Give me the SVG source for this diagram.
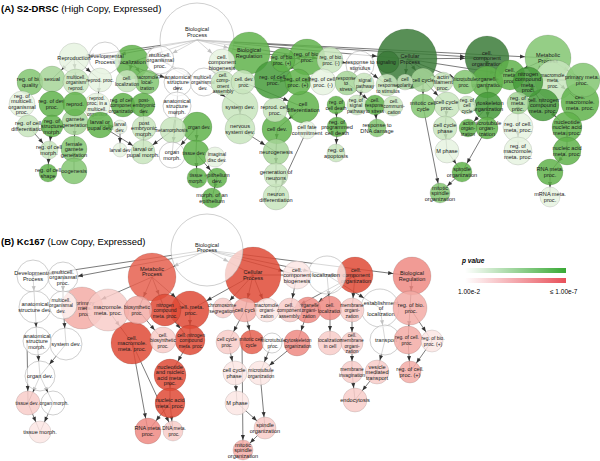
<svg xmlns="http://www.w3.org/2000/svg" width="600" height="461" viewBox="0 0 600 461">
<defs>
<style>
text{font-family:"Liberation Sans Narrow","Liberation Sans",Arial,sans-serif;font-size:5.6px;fill:#1a1a1a;text-anchor:middle}
text.s{font-size:4.9px}
circle{stroke:#000;stroke-opacity:.18;stroke-width:.6;fill-opacity:.85}
.w{fill:#fff;fill-opacity:.7;stroke:#9a9a9a;stroke-opacity:.8}
.g1{fill:#e6f3e1}.g2{fill:#c8e5bd}.g3{fill:#a6d598}.g4{fill:#83c571}.g5{fill:#60b34b}.g6{fill:#479b3b}.g7{fill:#3b7b38}
.r1{fill:#fce6e4}.r2{fill:#f8cdc9}.r3{fill:#f3aca6}.r4{fill:#ee8a82}.r5{fill:#e6604f}.r6{fill:#df4a36}
#connectors line{stroke:#333;stroke-width:.65}
.ttl{font-family:"Liberation Sans",Arial,sans-serif;font-size:9.5px;text-anchor:start;fill:#000}
.lg{font-family:"Liberation Sans",Arial,sans-serif;font-size:6.5px;text-anchor:start;fill:#000}
</style>
<marker id="m7" refX="12" refY="2" markerWidth="5" markerHeight="4" markerUnits="userSpaceOnUse" orient="auto" overflow="visible"><path d="M0,0L5,2L0,4z" fill="#333"/></marker>
<marker id="m8" refX="13" refY="2" markerWidth="5" markerHeight="4" markerUnits="userSpaceOnUse" orient="auto" overflow="visible"><path d="M0,0L5,2L0,4z" fill="#333"/></marker>
<marker id="m9" refX="14" refY="2" markerWidth="5" markerHeight="4" markerUnits="userSpaceOnUse" orient="auto" overflow="visible"><path d="M0,0L5,2L0,4z" fill="#333"/></marker>
<marker id="m10" refX="15" refY="2" markerWidth="5" markerHeight="4" markerUnits="userSpaceOnUse" orient="auto" overflow="visible"><path d="M0,0L5,2L0,4z" fill="#333"/></marker>
<marker id="m11" refX="16" refY="2" markerWidth="5" markerHeight="4" markerUnits="userSpaceOnUse" orient="auto" overflow="visible"><path d="M0,0L5,2L0,4z" fill="#333"/></marker>
<marker id="m12" refX="17" refY="2" markerWidth="5" markerHeight="4" markerUnits="userSpaceOnUse" orient="auto" overflow="visible"><path d="M0,0L5,2L0,4z" fill="#333"/></marker>
<marker id="m13" refX="18" refY="2" markerWidth="5" markerHeight="4" markerUnits="userSpaceOnUse" orient="auto" overflow="visible"><path d="M0,0L5,2L0,4z" fill="#333"/></marker>
<marker id="m14" refX="19" refY="2" markerWidth="5" markerHeight="4" markerUnits="userSpaceOnUse" orient="auto" overflow="visible"><path d="M0,0L5,2L0,4z" fill="#333"/></marker>
<marker id="m15" refX="20" refY="2" markerWidth="5" markerHeight="4" markerUnits="userSpaceOnUse" orient="auto" overflow="visible"><path d="M0,0L5,2L0,4z" fill="#333"/></marker>
<marker id="m16" refX="21" refY="2" markerWidth="5" markerHeight="4" markerUnits="userSpaceOnUse" orient="auto" overflow="visible"><path d="M0,0L5,2L0,4z" fill="#333"/></marker>
<marker id="m17" refX="22" refY="2" markerWidth="5" markerHeight="4" markerUnits="userSpaceOnUse" orient="auto" overflow="visible"><path d="M0,0L5,2L0,4z" fill="#333"/></marker>
<marker id="m18" refX="23" refY="2" markerWidth="5" markerHeight="4" markerUnits="userSpaceOnUse" orient="auto" overflow="visible"><path d="M0,0L5,2L0,4z" fill="#333"/></marker>
<marker id="m19" refX="24" refY="2" markerWidth="5" markerHeight="4" markerUnits="userSpaceOnUse" orient="auto" overflow="visible"><path d="M0,0L5,2L0,4z" fill="#333"/></marker>
<marker id="m20" refX="25" refY="2" markerWidth="5" markerHeight="4" markerUnits="userSpaceOnUse" orient="auto" overflow="visible"><path d="M0,0L5,2L0,4z" fill="#333"/></marker>
<marker id="m21" refX="26" refY="2" markerWidth="5" markerHeight="4" markerUnits="userSpaceOnUse" orient="auto" overflow="visible"><path d="M0,0L5,2L0,4z" fill="#333"/></marker>
<marker id="m22" refX="27" refY="2" markerWidth="5" markerHeight="4" markerUnits="userSpaceOnUse" orient="auto" overflow="visible"><path d="M0,0L5,2L0,4z" fill="#333"/></marker>
<marker id="m23" refX="28" refY="2" markerWidth="5" markerHeight="4" markerUnits="userSpaceOnUse" orient="auto" overflow="visible"><path d="M0,0L5,2L0,4z" fill="#333"/></marker>
<marker id="m24" refX="29" refY="2" markerWidth="5" markerHeight="4" markerUnits="userSpaceOnUse" orient="auto" overflow="visible"><path d="M0,0L5,2L0,4z" fill="#333"/></marker>
<marker id="m28" refX="33" refY="2" markerWidth="5" markerHeight="4" markerUnits="userSpaceOnUse" orient="auto" overflow="visible"><path d="M0,0L5,2L0,4z" fill="#333"/></marker>
<marker id="m30" refX="35" refY="2" markerWidth="5" markerHeight="4" markerUnits="userSpaceOnUse" orient="auto" overflow="visible"><path d="M0,0L5,2L0,4z" fill="#333"/></marker>
<linearGradient id="gg" x1="0" x2="1" y1="0" y2="0"><stop offset="0" stop-color="#fff"/><stop offset="1" stop-color="#39a935"/></linearGradient>
<linearGradient id="rg" x1="0" x2="1" y1="0" y2="0"><stop offset="0" stop-color="#fff"/><stop offset="1" stop-color="#e8505a"/></linearGradient>
</defs>
<rect width="600" height="461" fill="#fff"/>
<g id="connectors">
<line x1="197" y1="40" x2="74" y2="58" marker-end="url(#m15)"/>
<line x1="197" y1="40" x2="105" y2="57" marker-end="url(#m16)"/>
<line x1="197" y1="40" x2="132" y2="62" marker-end="url(#m17)"/>
<line x1="197" y1="40" x2="160" y2="60" marker-end="url(#m14)"/>
<line x1="197" y1="40" x2="249" y2="53" marker-end="url(#m21)"/>
<line x1="197" y1="40" x2="222" y2="62" marker-end="url(#m13)"/>
<line x1="197" y1="40" x2="407" y2="59" marker-end="url(#m30)"/>
<line x1="197" y1="40" x2="548" y2="58" marker-end="url(#m23)"/>
<line x1="197" y1="40" x2="487" y2="58" marker-end="url(#m22)"/>
<line x1="197" y1="40" x2="360" y2="65" marker-end="url(#m14)"/>
<line x1="407" y1="59" x2="487" y2="58" marker-end="url(#m22)"/>
<line x1="407" y1="59" x2="510" y2="75" marker-end="url(#m15)"/>
<line x1="548" y1="58" x2="510" y2="75" marker-end="url(#m15)"/>
<line x1="548" y1="58" x2="583" y2="80" marker-end="url(#m17)"/>
<line x1="548" y1="58" x2="528" y2="82" marker-end="url(#m15)"/>
<line x1="583" y1="80" x2="555" y2="80" marker-end="url(#m20)"/>
<line x1="407" y1="59" x2="423" y2="80" marker-end="url(#m12)"/>
<line x1="407" y1="59" x2="405" y2="82" marker-end="url(#m8)"/>
<line x1="407" y1="59" x2="443" y2="82" marker-end="url(#m10)"/>
<line x1="407" y1="59" x2="465" y2="82" marker-end="url(#m12)"/>
<line x1="487" y1="58" x2="487" y2="82" marker-end="url(#m16)"/>
<line x1="487" y1="82" x2="488" y2="106" marker-end="url(#m14)"/>
<line x1="423" y1="80" x2="423" y2="106" marker-end="url(#m12)"/>
<line x1="423" y1="80" x2="447" y2="105" marker-end="url(#m13)"/>
<line x1="447" y1="105" x2="445" y2="128" marker-end="url(#m12)"/>
<line x1="445" y1="128" x2="447" y2="151" marker-end="url(#m12)"/>
<line x1="487" y1="128" x2="462" y2="172" marker-end="url(#m10)"/>
<line x1="462" y1="172" x2="440" y2="193" marker-end="url(#m10)"/>
<line x1="423" y1="106" x2="440" y2="193" marker-end="url(#m10)"/>
<line x1="447" y1="151" x2="462" y2="172" marker-end="url(#m10)"/>
<line x1="488" y1="106" x2="487" y2="128" marker-end="url(#m11)"/>
<line x1="488" y1="106" x2="468" y2="128" marker-end="url(#m9)"/>
<line x1="555" y1="80" x2="580" y2="102" marker-end="url(#m19)"/>
<line x1="528" y1="82" x2="543" y2="105" marker-end="url(#m16)"/>
<line x1="543" y1="105" x2="567" y2="127" marker-end="url(#m15)"/>
<line x1="567" y1="127" x2="567" y2="151" marker-end="url(#m14)"/>
<line x1="567" y1="151" x2="550" y2="172" marker-end="url(#m13)"/>
<line x1="550" y1="172" x2="550" y2="197" marker-end="url(#m10)"/>
<line x1="518" y1="103" x2="518" y2="127" marker-end="url(#m15)"/>
<line x1="518" y1="127" x2="518" y2="151" marker-end="url(#m14)"/>
<line x1="249" y1="53" x2="307" y2="57" marker-end="url(#m18)"/>
<line x1="307" y1="57" x2="283" y2="60" marker-end="url(#m12)"/>
<line x1="307" y1="57" x2="330" y2="60" marker-end="url(#m13)"/>
<line x1="307" y1="57" x2="273" y2="80" marker-end="url(#m19)"/>
<line x1="273" y1="80" x2="298" y2="82" marker-end="url(#m13)"/>
<line x1="273" y1="80" x2="323" y2="82" marker-end="url(#m13)"/>
<line x1="360" y1="65" x2="347" y2="83" marker-end="url(#m12)"/>
<line x1="360" y1="65" x2="387" y2="85" marker-end="url(#m11)"/>
<line x1="347" y1="83" x2="375" y2="105" marker-end="url(#m10)"/>
<line x1="375" y1="105" x2="377" y2="128" marker-end="url(#m9)"/>
<line x1="336" y1="105" x2="337" y2="127" marker-end="url(#m10)"/>
<line x1="337" y1="127" x2="336" y2="153" marker-end="url(#m9)"/>
<line x1="364" y1="83" x2="357" y2="105" marker-end="url(#m10)"/>
<line x1="303" y1="107" x2="277" y2="129" marker-end="url(#m15)"/>
<line x1="240" y1="129" x2="276" y2="152" marker-end="url(#m13)"/>
<line x1="277" y1="129" x2="276" y2="152" marker-end="url(#m13)"/>
<line x1="276" y1="152" x2="276" y2="175" marker-end="url(#m12)"/>
<line x1="276" y1="175" x2="276" y2="197" marker-end="url(#m13)"/>
<line x1="307" y1="130" x2="276" y2="197" marker-end="url(#m13)"/>
<line x1="240" y1="107" x2="240" y2="129" marker-end="url(#m15)"/>
<line x1="204" y1="82" x2="240" y2="107" marker-end="url(#m18)"/>
<line x1="243" y1="82" x2="303" y2="107" marker-end="url(#m16)"/>
<line x1="178" y1="82" x2="177" y2="106" marker-end="url(#m14)"/>
<line x1="177" y1="106" x2="172" y2="155" marker-end="url(#m13)"/>
<line x1="177" y1="106" x2="173" y2="130" marker-end="url(#m13)"/>
<line x1="197" y1="127" x2="172" y2="155" marker-end="url(#m13)"/>
<line x1="197" y1="127" x2="196" y2="153" marker-end="url(#m13)"/>
<line x1="196" y1="153" x2="217" y2="178" marker-end="url(#m10)"/>
<line x1="217" y1="178" x2="212" y2="198" marker-end="url(#m10)"/>
<line x1="196" y1="153" x2="197" y2="178" marker-end="url(#m10)"/>
<line x1="100" y1="125" x2="120" y2="127" marker-end="url(#m7)"/>
<line x1="100" y1="125" x2="143" y2="152" marker-end="url(#m12)"/>
<line x1="143" y1="105" x2="144" y2="128" marker-end="url(#m12)"/>
<line x1="144" y1="128" x2="143" y2="152" marker-end="url(#m12)"/>
<line x1="173" y1="130" x2="143" y2="152" marker-end="url(#m12)"/>
<line x1="120" y1="127" x2="120" y2="150" marker-end="url(#m7)"/>
<line x1="75" y1="122" x2="74" y2="149" marker-end="url(#m13)"/>
<line x1="74" y1="149" x2="74" y2="171" marker-end="url(#m13)"/>
<line x1="52" y1="126" x2="49" y2="150" marker-end="url(#m9)"/>
<line x1="49" y1="150" x2="48" y2="173" marker-end="url(#m9)"/>
<line x1="28" y1="126" x2="49" y2="150" marker-end="url(#m9)"/>
<line x1="74" y1="58" x2="52" y2="79" marker-end="url(#m13)"/>
<line x1="74" y1="58" x2="76" y2="82" marker-end="url(#m13)"/>
<line x1="74" y1="58" x2="100" y2="80" marker-end="url(#m12)"/>
<line x1="100" y1="80" x2="97" y2="106" marker-end="url(#m13)"/>
<line x1="105" y1="57" x2="178" y2="82" marker-end="url(#m14)"/>
<line x1="132" y1="62" x2="127" y2="81" marker-end="url(#m11)"/>
<line x1="132" y1="62" x2="147" y2="82" marker-end="url(#m12)"/>
<line x1="160" y1="60" x2="204" y2="82" marker-end="url(#m14)"/>

<line x1="207" y1="250" x2="33" y2="276" marker-end="url(#m16)"/>
<line x1="207" y1="252" x2="63" y2="279" marker-end="url(#m15)"/>
<line x1="207" y1="250" x2="152" y2="277" marker-end="url(#m24)"/>
<line x1="207" y1="250" x2="253" y2="275" marker-end="url(#m28)"/>
<line x1="207" y1="250" x2="412" y2="276" marker-end="url(#m19)"/>
<line x1="207" y1="250" x2="327" y2="275" marker-end="url(#m19)"/>
<line x1="207" y1="250" x2="297" y2="275" marker-end="url(#m14)"/>
<line x1="253" y1="275" x2="355" y2="275" marker-end="url(#m18)"/>
<line x1="253" y1="275" x2="190" y2="310" marker-end="url(#m19)"/>
<line x1="253" y1="275" x2="245" y2="310" marker-end="url(#m12)"/>
<line x1="253" y1="275" x2="223" y2="308" marker-end="url(#m10)"/>
<line x1="253" y1="275" x2="267" y2="310" marker-end="url(#m12)"/>
<line x1="152" y1="277" x2="82" y2="308" marker-end="url(#m21)"/>
<line x1="152" y1="277" x2="138" y2="310" marker-end="url(#m14)"/>
<line x1="152" y1="277" x2="165" y2="310" marker-end="url(#m16)"/>
<line x1="152" y1="277" x2="190" y2="310" marker-end="url(#m19)"/>
<line x1="82" y1="308" x2="108" y2="310" marker-end="url(#m21)"/>
<line x1="108" y1="310" x2="132" y2="343" marker-end="url(#m21)"/>
<line x1="138" y1="310" x2="163" y2="340" marker-end="url(#m13)"/>
<line x1="165" y1="310" x2="190" y2="340" marker-end="url(#m15)"/>
<line x1="190" y1="310" x2="190" y2="340" marker-end="url(#m15)"/>
<line x1="190" y1="340" x2="170" y2="375" marker-end="url(#m16)"/>
<line x1="170" y1="375" x2="170" y2="403" marker-end="url(#m15)"/>
<line x1="170" y1="403" x2="148" y2="431" marker-end="url(#m13)"/>
<line x1="170" y1="403" x2="173" y2="431" marker-end="url(#m10)"/>
<line x1="132" y1="343" x2="148" y2="431" marker-end="url(#m13)"/>
<line x1="132" y1="343" x2="173" y2="431" marker-end="url(#m10)"/>
<line x1="33" y1="276" x2="35" y2="307" marker-end="url(#m16)"/>
<line x1="63" y1="277" x2="63" y2="305" marker-end="url(#m14)"/>
<line x1="35" y1="307" x2="37" y2="341" marker-end="url(#m14)"/>
<line x1="63" y1="305" x2="66" y2="344" marker-end="url(#m16)"/>
<line x1="37" y1="341" x2="40" y2="376" marker-end="url(#m15)"/>
<line x1="66" y1="344" x2="40" y2="376" marker-end="url(#m15)"/>
<line x1="40" y1="376" x2="28" y2="403" marker-end="url(#m12)"/>
<line x1="40" y1="376" x2="53" y2="403" marker-end="url(#m12)"/>
<line x1="28" y1="403" x2="40" y2="432" marker-end="url(#m11)"/>
<line x1="53" y1="403" x2="40" y2="432" marker-end="url(#m11)"/>
<line x1="27" y1="341" x2="28" y2="403" marker-end="url(#m12)"/>
<line x1="245" y1="310" x2="228" y2="342" marker-end="url(#m12)"/>
<line x1="245" y1="310" x2="252" y2="342" marker-end="url(#m12)"/>
<line x1="228" y1="342" x2="235" y2="373" marker-end="url(#m12)"/>
<line x1="235" y1="373" x2="237" y2="403" marker-end="url(#m12)"/>
<line x1="237" y1="403" x2="265" y2="428" marker-end="url(#m11)"/>
<line x1="260" y1="373" x2="265" y2="428" marker-end="url(#m11)"/>
<line x1="265" y1="428" x2="243" y2="450" marker-end="url(#m10)"/>
<line x1="242" y1="342" x2="243" y2="450" marker-end="url(#m10)"/>
<line x1="297" y1="343" x2="260" y2="373" marker-end="url(#m12)"/>
<line x1="272" y1="343" x2="260" y2="373" marker-end="url(#m12)"/>
<line x1="355" y1="275" x2="308" y2="310" marker-end="url(#m13)"/>
<line x1="355" y1="275" x2="290" y2="310" marker-end="url(#m12)"/>
<line x1="297" y1="275" x2="290" y2="310" marker-end="url(#m12)"/>
<line x1="308" y1="310" x2="297" y2="343" marker-end="url(#m13)"/>
<line x1="355" y1="275" x2="352" y2="310" marker-end="url(#m12)"/>
<line x1="327" y1="275" x2="330" y2="308" marker-end="url(#m12)"/>
<line x1="327" y1="275" x2="380" y2="308" marker-end="url(#m19)"/>
<line x1="330" y1="308" x2="330" y2="343" marker-end="url(#m12)"/>
<line x1="352" y1="310" x2="352" y2="343" marker-end="url(#m11)"/>
<line x1="380" y1="308" x2="385" y2="340" marker-end="url(#m15)"/>
<line x1="385" y1="340" x2="377" y2="372" marker-end="url(#m12)"/>
<line x1="352" y1="343" x2="352" y2="372" marker-end="url(#m11)"/>
<line x1="352" y1="372" x2="355" y2="400" marker-end="url(#m12)"/>
<line x1="377" y1="372" x2="355" y2="400" marker-end="url(#m12)"/>
<line x1="412" y1="276" x2="410" y2="308" marker-end="url(#m17)"/>
<line x1="410" y1="308" x2="408" y2="340" marker-end="url(#m14)"/>
<line x1="410" y1="308" x2="432" y2="341" marker-end="url(#m11)"/>
<line x1="408" y1="340" x2="410" y2="372" marker-end="url(#m11)"/>
<line x1="432" y1="341" x2="410" y2="372" marker-end="url(#m11)"/>
</g>

<g id="a_bp"><circle class="w" cx="197" cy="40" r="37"/><text x="197" y="31">Biological<tspan x="197" dy="5.5">Process</tspan></text></g>
<g id="a_cp"><circle class="g7" cx="407" cy="59" r="30"/><text x="410" y="58.25">Cellular<tspan x="410" dy="5.5">Process</tspan></text></g>
<g id="a_sig"><circle class="g7" cx="388" cy="62" r="11"/><text class="s" x="386" y="64">signaling</text></g>
<g id="a_mp"><circle class="g4" cx="548" cy="58" r="23"/><text x="548" y="57.25">Metabolic<tspan x="548" dy="5.5">Process</tspan></text></g>
<g id="a_cco"><circle class="g7" cx="487" cy="58" r="22"/><text x="487" y="54.5">cell.<tspan x="487" dy="5.5">component</tspan><tspan x="487" dy="5.5">organization</tspan></text></g>
<g id="a_breg"><circle class="g5" cx="249" cy="53" r="21"/><text x="249" y="52.25">Biological<tspan x="249" dy="5.5">Regulation</tspan></text></g>
<g id="a_mmp"><circle class="g2" cx="555" cy="80" r="20"/><text class="s" x="553" y="76.5">macromole.<tspan x="553" dy="5.5">meta.</tspan><tspan x="553" dy="5.5">proc.</tspan></text></g>
<g id="a_rcp"><circle class="g6" cx="273" cy="80" r="19"/><text x="273" y="79.25">reg. of cell.<tspan x="273" dy="5.5">proc.</tspan></text></g>
<g id="a_cmmp"><circle class="g5" cx="580" cy="102" r="19"/><text x="580" y="98.5">cell.<tspan x="580" dy="5.5">macromole.</tspan><tspan x="580" dy="5.5">meta. proc.</tspan></text></g>
<g id="a_rbp"><circle class="g5" cx="307" cy="57" r="18"/><text x="307" y="56.25">reg. of bio.<tspan x="307" dy="5.5">proc.</tspan></text></g>
<g id="a_sysd"><circle class="g2" cx="240" cy="107" r="18"/><text x="240" y="109">system dev.</text></g>
<g id="a_loc"><circle class="g5" cx="132" cy="62" r="17"/><text x="132" y="64">localization</text></g>
<g id="a_pmp"><circle class="g4" cx="583" cy="80" r="17"/><text x="582" y="79.25">primary meta.<tspan x="582" dy="5.5">proc.</tspan></text></g>
<g id="a_dev"><circle class="w" cx="105" cy="58" r="16"/><text x="105" y="58">Developmental<tspan x="105" dy="5.5">Process</tspan></text></g>
<g id="a_oo"><circle class="g5" cx="487" cy="82" r="16"/><text x="487" y="81.25">organelle<tspan x="487" dy="5.5">organization</tspan></text></g>
<g id="a_cdiff"><circle class="g5" cx="303" cy="107" r="16"/><text x="303" y="106.25">cell<tspan x="303" dy="5.5">differentiation</tspan></text></g>
<g id="a_cncmp"><circle class="g6" cx="543" cy="105" r="16"/><text x="543" y="101.5">cell. nitrogen<tspan x="543" dy="5.5">compound</tspan><tspan x="543" dy="5.5">meta. proc.</tspan></text></g>
<g id="a_repro"><circle class="g1" cx="74" cy="58" r="15"/><text x="74" y="60">Reproduction</text></g>
<g id="a_cmp"><circle class="g5" cx="510" cy="75" r="15"/><text x="510" y="71.5">cell.<tspan x="510" dy="5.5">meta.</tspan><tspan x="510" dy="5.5">proc.</tspan></text></g>
<g id="a_ncmp"><circle class="g6" cx="528" cy="82" r="15"/><text x="528" y="75.75">nitrogen<tspan x="528" dy="5.5">compound</tspan><tspan x="528" dy="5.5">meta.</tspan><tspan x="528" dy="5.5">proc.</tspan></text></g>
<g id="a_nsd"><circle class="g2" cx="240" cy="129" r="15"/><text x="240" y="128.25">nervous<tspan x="240" dy="5.5">system dev.</tspan></text></g>
<g id="a_cdev"><circle class="g5" cx="277" cy="129" r="15"/><text x="277" y="131">cell dev.</text></g>
<g id="a_organ"><circle class="g5" cx="197" cy="127" r="15"/><text class="s" x="199" y="129">organ dev.</text></g>
<g id="a_rcmp"><circle class="g1" cx="518" cy="127" r="15"/><text x="518" y="126.25">reg. of cell.<tspan x="518" dy="5.5">meta. proc.</tspan></text></g>
<g id="a_nnamp"><circle class="g5" cx="567" cy="127" r="15"/><text x="567" y="123.5">nucleotide<tspan x="567" dy="5.5">nucleic acid</tspan><tspan x="567" dy="5.5">meta. proc.</tspan></text></g>
<g id="a_mop"><circle class="w" cx="160" cy="60" r="14"/><text x="160" y="56.5">multicell.<tspan x="160" dy="5.5">organismal</tspan><tspan x="160" dy="5.5">proc.</tspan></text></g>
<g id="a_asd"><circle class="w" cx="178" cy="82" r="14"/><text x="178" y="78.5">anatomical<tspan x="178" dy="5.5">structure</tspan><tspan x="178" dy="5.5">dev.</tspan></text></g>
<g id="a_mod"><circle class="w" cx="204" cy="82" r="14"/><text class="s" x="203" y="78.5">multicell.<tspan x="203" dy="5.5">organismal</tspan><tspan x="203" dy="5.5">dev.</tspan></text></g>
<g id="a_asm"><circle class="w" cx="177" cy="106" r="14"/><text x="177" y="102.5">anatomical<tspan x="177" dy="5.5">structure</tspan><tspan x="177" dy="5.5">morph.</tspan></text></g>
<g id="a_rts"><circle class="w" cx="360" cy="65" r="14"/><text x="360" y="64.25">response to<tspan x="360" dy="5.5">stimulus</tspan></text></g>
<g id="a_cso"><circle class="g6" cx="488" cy="106" r="14"/><text x="488" y="105.25">cytoskeleton<tspan x="488" dy="5.5">organization</tspan></text></g>
<g id="a_rmmp"><circle class="g1" cx="518" cy="151" r="14"/><text x="518" y="147.5">reg. of<tspan x="518" dy="5.5">macromole.</tspan><tspan x="518" dy="5.5">meta. proc.</tspan></text></g>
<g id="a_namp"><circle class="g5" cx="567" cy="151" r="14"/><text x="567" y="150.25">nucleic acid<tspan x="567" dy="5.5">meta. proc.</tspan></text></g>
<g id="a_rbq"><circle class="g4" cx="30" cy="82" r="13"/><text x="30" y="81.25">reg. of bio.<tspan x="30" dy="5.5">quality</tspan></text></g>
<g id="a_sexual"><circle class="g3" cx="52" cy="79" r="13"/><text x="52" y="81">sexual</text></g>
<g id="a_mor"><circle class="g2" cx="76" cy="82" r="13"/><text class="s" x="76" y="78.5">multicell.<tspan x="76" dy="5.5">organism</tspan><tspan x="76" dy="5.5">reprod.</tspan></text></g>
<g id="a_rmop"><circle class="g1" cx="22" cy="104" r="13"/><text x="22" y="97.75">reg. of<tspan x="22" dy="5.5">multicell.</tspan><tspan x="22" dy="5.5">organismal</tspan><tspan x="22" dy="5.5">proc.</tspan></text></g>
<g id="a_rdp"><circle class="g5" cx="52" cy="104" r="13"/><text x="52" y="103.25">reg. of dev.<tspan x="52" dy="5.5">proc.</tspan></text></g>
<g id="a_rpm"><circle class="g1" cx="97" cy="106" r="13"/><text class="s" x="97" y="99.75">reprod.<tspan x="97" dy="5.5">proc. in a</tspan><tspan x="97" dy="5.5">multicell.</tspan><tspan x="97" dy="5.5">organism</tspan></text></g>
<g id="a_gg"><circle class="g3" cx="75" cy="122" r="13"/><text x="75" y="121.25">gamete<tspan x="75" dy="5.5">generation</tspan></text></g>
<g id="a_lpd"><circle class="g5" cx="100" cy="125" r="13"/><text x="100" y="124.25">larval or<tspan x="100" dy="5.5">pupal dev.</tspan></text></g>
<g id="a_meta"><circle class="g2" cx="173" cy="130" r="13"/><text class="s" x="171" y="132">metamorphosis</text></g>
<g id="a_fgg"><circle class="g4" cx="74" cy="149" r="13"/><text x="74" y="145.5">female<tspan x="74" dy="5.5">gamete</tspan><tspan x="74" dy="5.5">generation</tspan></text></g>
<g id="a_om"><circle class="w" cx="172" cy="155" r="13"/><text x="172" y="154.25">organ<tspan x="172" dy="5.5">morph.</tspan></text></g>
<g id="a_td"><circle class="g5" cx="196" cy="153" r="13"/><text class="s" x="194" y="155">tissue dev.</text></g>
<g id="a_oog"><circle class="g4" cx="74" cy="171" r="13"/><text x="74" y="173">oogenesis</text></g>
<g id="a_ccb"><circle class="g1" cx="222" cy="62" r="13"/><text x="222" y="58.5">cell.<tspan x="222" dy="5.5">component</tspan><tspan x="222" dy="5.5">biogenesis</tspan></text></g>
<g id="a_rbpm"><circle class="g2" cx="330" cy="60" r="13"/><text class="s" x="331" y="59.25">reg. of bio.<tspan x="331" dy="5.5">proc. (-)</tspan></text></g>
<g id="a_rcpp"><circle class="g5" cx="298" cy="82" r="13"/><text x="298" y="81.25">reg. of cell.<tspan x="298" dy="5.5">proc. (+)</tspan></text></g>
<g id="a_rcpm"><circle class="g1" cx="323" cy="82" r="13"/><text x="323" y="81.25">reg. of cell.<tspan x="323" dy="5.5">proc. (-)</tspan></text></g>
<g id="a_ccp"><circle class="g2" cx="447" cy="105" r="13"/><text x="447" y="104.25">cell cycle<tspan x="447" dy="5.5">proc.</tspan></text></g>
<g id="a_neuro"><circle class="g3" cx="276" cy="152" r="13"/><text x="276" y="154">neurogenesis</text></g>
<g id="a_nd"><circle class="g2" cx="276" cy="197" r="13"/><text x="276" y="196.25">neuron<tspan x="276" dy="5.5">differentiation</tspan></text></g>
<g id="a_rnamp"><circle class="g5" cx="550" cy="172" r="13"/><text x="550" y="171.25">RNA meta.<tspan x="550" dy="5.5">proc.</tspan></text></g>
<g id="a_mloc"><circle class="g4" cx="147" cy="82" r="12"/><text class="s" x="147" y="78.5">macromole.<tspan x="147" dy="5.5">local-</tspan><tspan x="147" dy="5.5">ization</tspan></text></g>
<g id="a_rp"><circle class="g1" cx="100" cy="80" r="12"/><text class="s" x="100" y="82">reprod. proc.</text></g>
<g id="a_reprod"><circle class="g5" cx="75" cy="104" r="12"/><text x="75" y="106">reprod.</text></g>
<g id="a_rcco"><circle class="g5" cx="123" cy="105" r="12"/><text class="s" x="122" y="101.5">reg. of cell.<tspan x="122" dy="5.5">component</tspan><tspan x="122" dy="5.5">organization</tspan></text></g>
<g id="a_ped"><circle class="g5" cx="143" cy="105" r="12"/><text class="s" x="144" y="101.5">post-<tspan x="144" dy="5.5">embryonic</tspan><tspan x="144" dy="5.5">dev.</tspan></text></g>
<g id="a_pem"><circle class="g2" cx="144" cy="128" r="12"/><text x="144" y="124.5">post<tspan x="144" dy="5.5">embryonic</tspan><tspan x="144" dy="5.5">morph.</tspan></text></g>
<g id="a_lpm"><circle class="g2" cx="143" cy="152" r="12"/><text x="143" y="151.25">larval or<tspan x="143" dy="5.5">pupal morph.</tspan></text></g>
<g id="a_cca"><circle class="g2" cx="223" cy="83" r="12"/><text class="s" x="223" y="76.75">cell.<tspan x="223" dy="5.5">comp-</tspan><tspan x="223" dy="5.5">onent</tspan><tspan x="223" dy="5.5">assembly</tspan></text></g>
<g id="a_cdp"><circle class="g2" cx="243" cy="82" r="12"/><text class="s" x="244" y="81.25">cell. dev.<tspan x="244" dy="5.5">proc.</tspan></text></g>
<g id="a_rbpp"><circle class="g5" cx="283" cy="60" r="12"/><text class="s" x="282" y="59.25">reg. of bio.<tspan x="282" dy="5.5">proc. (+)</tspan></text></g>
<g id="a_rstress"><circle class="g3" cx="347" cy="83" r="12"/><text class="s" x="346" y="79.5">response<tspan x="346" dy="5.5">to</tspan><tspan x="346" dy="5.5">stress</tspan></text></g>
<g id="a_rcp2"><circle class="g2" cx="275" cy="110" r="12"/><text x="275" y="109.25">reprod. cell.<tspan x="275" dy="5.5">proc.</tspan></text></g>
<g id="a_gon"><circle class="g2" cx="276" cy="175" r="12"/><text x="276" y="174.25">generation of<tspan x="276" dy="5.5">neurons</tspan></text></g>
<g id="a_cc"><circle class="g3" cx="423" cy="80" r="12"/><text x="423" y="82">cell cycle</text></g>
<g id="a_mtp"><circle class="g4" cx="465" cy="82" r="12"/><text class="s" x="464" y="81.25">microtubule<tspan x="464" dy="5.5">proc.</tspan></text></g>
<g id="a_mcc"><circle class="g4" cx="423" cy="106" r="12"/><text x="423" y="105.25">mitotic cell<tspan x="423" dy="5.5">cycle</tspan></text></g>
<g id="a_ccph"><circle class="g2" cx="445" cy="128" r="12"/><text x="445" y="127.25">cell cycle<tspan x="445" dy="5.5">phase</tspan></text></g>
<g id="a_mph"><circle class="g1" cx="447" cy="151" r="12"/><text x="447" y="153">M phase</text></g>
<g id="a_cloc"><circle class="g2" cx="127" cy="81" r="11"/><text class="s" x="127" y="80.25">cell.<tspan x="127" dy="5.5">localization</tspan></text></g>
<g id="a_rcd"><circle class="g2" cx="28" cy="126" r="11"/><text x="28" y="125.25">reg. of cell<tspan x="28" dy="5.5">differentiation</tspan></text></g>
<g id="a_rsm"><circle class="g5" cx="52" cy="126" r="11"/><text x="52" y="122.5">reg. of<tspan x="52" dy="5.5">structure</tspan><tspan x="52" dy="5.5">morph.</tspan></text></g>
<g id="a_crs"><circle class="g2" cx="387" cy="85" r="11"/><text class="s" x="388" y="81.5">cell.<tspan x="388" dy="5.5">response</tspan><tspan x="388" dy="5.5">to stimulus</tspan></text></g>
<g id="a_rmp"><circle class="g3" cx="518" cy="103" r="11"/><text x="518" y="99.5">reg. of<tspan x="518" dy="5.5">meta.</tspan><tspan x="518" dy="5.5">proc.</tspan></text></g>
<g id="a_mto"><circle class="g5" cx="487" cy="128" r="11"/><text x="487" y="124.5">microtubule<tspan x="487" dy="5.5">organ-</tspan><tspan x="487" dy="5.5">ization</tspan></text></g>
<g id="a_sp"><circle class="g2" cx="364" cy="83" r="10"/><text class="s" x="365" y="82.25">signal<tspan x="365" dy="5.5">pathway</tspan></text></g>
<g id="a_rsp"><circle class="g2" cx="357" cy="105" r="10"/><text class="s" x="356" y="101.5">reg. of<tspan x="356" dy="5.5">signal</tspan><tspan x="356" dy="5.5">pathway</tspan></text></g>
<g id="a_crstr"><circle class="g5" cx="375" cy="105" r="10"/><text class="s" x="375" y="101.5">cell.<tspan x="375" dy="5.5">response</tspan><tspan x="375" dy="5.5">to stress</tspan></text></g>
<g id="a_ccomm"><circle class="g2" cx="393" cy="106" r="10"/><text class="s" x="394" y="102.5">cell.<tspan x="394" dy="5.5">communi-</tspan><tspan x="394" dy="5.5">cation</tspan></text></g>
<g id="a_rpcd"><circle class="g5" cx="337" cy="127" r="10"/><text x="337" y="123.5">reg. of<tspan x="337" dy="5.5">programmed</tspan><tspan x="337" dy="5.5">cell death</tspan></text></g>
<g id="a_idd"><circle class="g1" cx="215" cy="157" r="10"/><text class="s" x="217" y="156.25">imaginal<tspan x="217" dy="5.5">disc dev.</tspan></text></g>
<g id="a_ed"><circle class="g5" cx="217" cy="178" r="10"/><text x="217" y="177.25">epithelium<tspan x="217" dy="5.5">dev.</tspan></text></g>
<g id="a_moe"><circle class="g5" cx="212" cy="198" r="10"/><text x="212" y="197.25">morph. of an<tspan x="212" dy="5.5">epithelium</tspan></text></g>
<g id="a_tm"><circle class="g5" cx="197" cy="178" r="10"/><text class="s" x="196" y="177.25">tissue<tspan x="196" dy="5.5">morph.</tspan></text></g>
<g id="a_afp"><circle class="g2" cx="443" cy="82" r="10"/><text x="443" y="78.5">actin<tspan x="443" dy="5.5">filament</tspan><tspan x="443" dy="5.5">proc.</tspan></text></g>
<g id="a_so"><circle class="g5" cx="462" cy="172" r="10"/><text x="462" y="171.25">spindle<tspan x="462" dy="5.5">organization</tspan></text></g>
<g id="a_mso"><circle class="g4" cx="440" cy="193" r="10"/><text x="440" y="189.5">mitotic<tspan x="440" dy="5.5">spindle</tspan><tspan x="440" dy="5.5">organization</tspan></text></g>
<g id="a_mrna"><circle class="g1" cx="550" cy="197" r="10"/><text x="550" y="196.25">mRNA meta.<tspan x="550" dy="5.5">proc.</tspan></text></g>
<g id="a_rcm"><circle class="g2" cx="49" cy="150" r="9"/><text x="49" y="149.25">reg. of cell<tspan x="49" dy="5.5">morph.</tspan></text></g>
<g id="a_rcs"><circle class="g5" cx="48" cy="173" r="9"/><text x="48" y="172.25">reg. of cell<tspan x="48" dy="5.5">shape</tspan></text></g>
<g id="a_cfc"><circle class="g1" cx="307" cy="130" r="9"/><text x="307" y="129.25">cell fate<tspan x="307" dy="5.5">commitment</tspan></text></g>
<g id="a_rdna"><circle class="g4" cx="377" cy="128" r="9"/><text x="377" y="127.25">response to<tspan x="377" dy="5.5">DNA damage</tspan></text></g>
<g id="a_rapo"><circle class="g2" cx="336" cy="153" r="9"/><text x="336" y="152.25">reg. of<tspan x="336" dy="5.5">apoptosis</tspan></text></g>
<g id="a_rcdeath"><circle class="g5" cx="336" cy="105" r="9"/><text class="s" x="336" y="104.25">reg. of<tspan x="336" dy="5.5">cell death</tspan></text></g>
<g id="a_rcc"><circle class="g2" cx="467" cy="105" r="9"/><text class="s" x="467" y="101.5">reg. of<tspan x="467" dy="5.5">cell</tspan><tspan x="467" dy="5.5">cycle</tspan></text></g>
<g id="a_ao"><circle class="g5" cx="468" cy="128" r="9"/><text class="s" x="468" y="124.5">actin<tspan x="468" dy="5.5">organ-</tspan><tspan x="468" dy="5.5">ization</tspan></text></g>
<g id="a_cpol"><circle class="g2" cx="405" cy="82" r="8"/><text class="s" x="405" y="81.25">cell<tspan x="405" dy="5.5">polarity</tspan></text></g>
<g id="a_ld"><circle class="g1" cx="120" cy="127" r="7"/><text class="s" x="120" y="126.25">larval<tspan x="120" dy="5.5">dev.</tspan></text></g>
<g id="a_ld2"><circle class="g1" cx="120" cy="150" r="7"/><text class="s" x="120" y="152">larval dev</text></g>

<g id="b_cp"><circle class="r6" cx="253" cy="275" r="28"/><text x="253" y="274.25">Cellular<tspan x="253" dy="5.5">Process</tspan></text></g>
<g id="b_bp"><circle class="w" cx="207" cy="250" r="36"/><text x="207" y="246.5">Biological<tspan x="207" dy="5.5">Process</tspan></text></g>
<g id="b_mp"><circle class="r5" cx="152" cy="277" r="24"/><text x="152" y="270.5">Metabolic<tspan x="152" dy="5.5">Process</tspan></text></g>
<g id="b_cmmp"><circle class="r6" cx="132" cy="343" r="21"/><text x="132" y="339.5">cell.<tspan x="132" dy="5.5">macromole.</tspan><tspan x="132" dy="5.5">meta. proc.</tspan></text></g>
<g id="b_pmp"><circle class="r3" cx="82" cy="308" r="21"/><text x="85" y="304.5">primary<tspan x="85" dy="5.5">meta.</tspan><tspan x="85" dy="5.5">proc.</tspan></text></g>
<g id="b_mmp"><circle class="r2" cx="108" cy="310" r="21"/><text x="108" y="309.25">macromole.<tspan x="108" dy="5.5">meta. proc.</tspan></text></g>
<g id="b_breg"><circle class="r4" cx="412" cy="276" r="19"/><text x="412" y="275.25">Biological<tspan x="412" dy="5.5">Regulation</tspan></text></g>
<g id="b_cco"><circle class="r6" cx="355" cy="275" r="18"/><text x="356" y="271.5">cell.<tspan x="356" dy="5.5">component</tspan><tspan x="356" dy="5.5">organization</tspan></text></g>
<g id="b_loc"><circle class="w" cx="327" cy="275" r="19"/><text x="326" y="277">localization</text></g>
<g id="b_cmp"><circle class="r6" cx="190" cy="310" r="19"/><text x="191" y="309.25">cell. meta.<tspan x="191" dy="5.5">proc.</tspan></text></g>
<g id="b_eol"><circle class="w" cx="380" cy="308" r="19"/><text x="381" y="304.5">establishment<tspan x="381" dy="5.5">of</tspan><tspan x="381" dy="5.5">localization</tspan></text></g>
<g id="b_rbp"><circle class="r3" cx="410" cy="308" r="17"/><text x="411" y="307.25">reg. of bio.<tspan x="411" dy="5.5">proc.</tspan></text></g>
<g id="b_dev"><circle class="w" cx="33" cy="276" r="16"/><text x="33" y="275.25">Developmental<tspan x="33" dy="5.5">Process</tspan></text></g>
<g id="b_asd"><circle class="w" cx="35" cy="307" r="16"/><text x="35" y="306.25">anatomical<tspan x="35" dy="5.5">structure dev.</tspan></text></g>
<g id="b_ncmp"><circle class="r6" cx="165" cy="310" r="16"/><text class="s" x="165" y="306.5">nitrogen<tspan x="165" dy="5.5">compound</tspan><tspan x="165" dy="5.5">meta. proc.</tspan></text></g>
<g id="b_sysd"><circle class="w" cx="66" cy="344" r="16"/><text x="66" y="346">system dev.</text></g>
<g id="b_nnamp"><circle class="r6" cx="170" cy="375" r="16"/><text x="170" y="368.75">nucleotide<tspan x="170" dy="5.5">and nucleic</tspan><tspan x="170" dy="5.5">acid meta.</tspan><tspan x="170" dy="5.5">proc.</tspan></text></g>
<g id="b_mop"><circle class="w" cx="63" cy="277" r="15"/><text x="63" y="273.5">multicell.<tspan x="63" dy="5.5">organismal</tspan><tspan x="63" dy="5.5">proc.</tspan></text></g>
<g id="b_cncmp"><circle class="r6" cx="190" cy="340" r="15"/><text class="s" x="191" y="336.5">cell. nitrogen<tspan x="191" dy="5.5">compound</tspan><tspan x="191" dy="5.5">meta. proc.</tspan></text></g>
<g id="b_od"><circle class="w" cx="40" cy="376" r="15"/><text x="40" y="378">organ dev.</text></g>
<g id="b_namp"><circle class="r6" cx="170" cy="403" r="15"/><text x="170" y="402.25">nucleic acid<tspan x="170" dy="5.5">meta. proc.</tspan></text></g>
<g id="b_tr"><circle class="w" cx="385" cy="340" r="15"/><text x="386" y="342">transport</text></g>
<g id="b_ccb"><circle class="r1" cx="297" cy="275" r="14"/><text x="297" y="271.5">cell.<tspan x="297" dy="5.5">component</tspan><tspan x="297" dy="5.5">biogenesis</tspan></text></g>
<g id="b_mod"><circle class="w" cx="63" cy="305" r="14"/><text class="s" x="61" y="301.5">multicell.<tspan x="61" dy="5.5">organismal</tspan><tspan x="61" dy="5.5">dev.</tspan></text></g>
<g id="b_bsp"><circle class="r3" cx="138" cy="310" r="14"/><text class="s" x="137" y="309.25">biosynthetic<tspan x="137" dy="5.5">proc.</tspan></text></g>
<g id="b_asm"><circle class="w" cx="37" cy="341" r="14"/><text x="37" y="337.5">anatomical<tspan x="37" dy="5.5">structure</tspan><tspan x="37" dy="5.5">morph.</tspan></text></g>
<g id="b_rcp"><circle class="r3" cx="408" cy="340" r="14"/><text class="s" x="407" y="339.25">reg. of cell.<tspan x="407" dy="5.5">proc.</tspan></text></g>
<g id="b_oo"><circle class="r4" cx="308" cy="310" r="13"/><text class="s" x="309" y="306.5">organelle<tspan x="309" dy="5.5">organi-</tspan><tspan x="309" dy="5.5">zation</tspan></text></g>
<g id="b_cbsp"><circle class="r2" cx="163" cy="340" r="13"/><text class="s" x="163" y="336.5">cell.<tspan x="163" dy="5.5">biosynthetic</tspan><tspan x="163" dy="5.5">proc.</tspan></text></g>
<g id="b_cso"><circle class="r4" cx="297" cy="343" r="13"/><text class="s" x="298" y="342.25">cytoskeleton<tspan x="298" dy="5.5">organization</tspan></text></g>
<g id="b_rnamp"><circle class="r4" cx="148" cy="431" r="13"/><text x="148" y="430.25">RNA meta.<tspan x="148" dy="5.5">proc.</tspan></text></g>
<g id="b_cc"><circle class="r3" cx="245" cy="310" r="12"/><text x="246" y="312">cell cycle</text></g>
<g id="b_mo"><circle class="r1" cx="267" cy="310" r="12"/><text class="s" x="267" y="306.5">macromole.<tspan x="267" dy="5.5">organi-</tspan><tspan x="267" dy="5.5">zation</tspan></text></g>
<g id="b_cca"><circle class="r2" cx="290" cy="310" r="12"/><text class="s" x="289" y="306.5">cell.<tspan x="289" dy="5.5">component</tspan><tspan x="289" dy="5.5">assembly</tspan></text></g>
<g id="b_cloc"><circle class="r4" cx="330" cy="308" r="12"/><text class="s" x="330" y="307.25">cell.<tspan x="330" dy="5.5">localization</tspan></text></g>
<g id="b_memo"><circle class="r2" cx="352" cy="310" r="12"/><text class="s" x="352" y="306.5">membrane<tspan x="352" dy="5.5">organi-</tspan><tspan x="352" dy="5.5">zation</tspan></text></g>
<g id="b_ccp"><circle class="r2" cx="228" cy="342" r="12"/><text class="s" x="227" y="341.25">cell cycle<tspan x="227" dy="5.5">proc.</tspan></text></g>
<g id="b_mcc"><circle class="r5" cx="252" cy="342" r="12"/><text class="s" x="251" y="341.25">mitotic cell<tspan x="251" dy="5.5">cycle</tspan></text></g>
<g id="b_lic"><circle class="r2" cx="330" cy="343" r="12"/><text class="s" x="330" y="342.25">localization<tspan x="330" dy="5.5">in cell</tspan></text></g>
<g id="b_ccph"><circle class="r1" cx="235" cy="373" r="12"/><text x="234" y="372.25">cell cycle<tspan x="234" dy="5.5">phase</tspan></text></g>
<g id="b_mto"><circle class="r1" cx="260" cy="373" r="12"/><text class="s" x="261" y="372.25">microtubule<tspan x="261" dy="5.5">organization</tspan></text></g>
<g id="b_vmt"><circle class="r2" cx="377" cy="372" r="12"/><text x="377" y="368.5">vesicle<tspan x="377" dy="5.5">mediated</tspan><tspan x="377" dy="5.5">transport</tspan></text></g>
<g id="b_td"><circle class="r2" cx="28" cy="403" r="12"/><text class="s" x="27" y="405">tissue dev.</text></g>
<g id="b_om"><circle class="w" cx="53" cy="403" r="12"/><text class="s" x="54" y="405">organ morph.</text></g>
<g id="b_mph"><circle class="r1" cx="237" cy="403" r="12"/><text x="237" y="405">M phase</text></g>
<g id="b_endo"><circle class="r2" cx="355" cy="400" r="12"/><text x="355" y="402">endocytosis</text></g>
<g id="b_cs"><circle class="r2" cx="223" cy="308" r="10"/><text class="s" x="222" y="307.25">chromosome<tspan x="222" dy="5.5">segregation</tspan></text></g>
<g id="b_cmo"><circle class="r2" cx="352" cy="343" r="11"/><text class="s" x="352" y="336.75">cell.<tspan x="352" dy="5.5">membrane</tspan><tspan x="352" dy="5.5">organi-</tspan><tspan x="352" dy="5.5">zation</tspan></text></g>
<g id="b_rbpp"><circle class="r1" cx="432" cy="341" r="11"/><text class="s" x="433" y="340.25">reg. of bio.<tspan x="433" dy="5.5">proc. (+)</tspan></text></g>
<g id="b_rcpp"><circle class="r3" cx="410" cy="372" r="11"/><text x="410" y="371.25">reg. of cell.<tspan x="410" dy="5.5">proc. (+)</tspan></text></g>
<g id="b_mi"><circle class="r2" cx="352" cy="372" r="11"/><text class="s" x="352" y="371.25">membrane<tspan x="352" dy="5.5">invagination</tspan></text></g>
<g id="b_tm"><circle class="r1" cx="40" cy="432" r="11"/><text x="40" y="434">tissue morph.</text></g>
<g id="b_so"><circle class="r2" cx="265" cy="428" r="11"/><text x="265" y="427.25">spindle<tspan x="265" dy="5.5">organization</tspan></text></g>
<g id="b_mtp"><circle class="w" cx="272" cy="343" r="10"/><text class="s" x="273" y="342.25">microtubule<tspan x="273" dy="5.5">proc.</tspan></text></g>
<g id="b_dnamp"><circle class="r2" cx="173" cy="431" r="10"/><text class="s" x="174" y="430.25">DNA meta.<tspan x="174" dy="5.5">proc.</tspan></text></g>
<g id="b_mso"><circle class="r3" cx="243" cy="450" r="10"/><text x="243" y="446.5">mitotic<tspan x="243" dy="5.5">spindle</tspan><tspan x="243" dy="5.5">organization</tspan></text></g>

<g id="legend">
<text class="lg" x="462" y="263" font-weight="bold" font-style="italic">p  value</text>
<rect x="465" y="268" width="101" height="5" fill="url(#gg)"/>
<rect x="465" y="278" width="101" height="5" fill="url(#rg)"/>
<text class="lg" x="458" y="294">1.00e-2</text>
<text class="lg" x="550" y="294">≤ 1.00e-7</text>
</g>
<g id="titles">
<text class="ttl" x="1" y="12"><tspan font-weight="bold">(A) S2-DRSC</tspan> (High Copy, Expressed)</text>
<text class="ttl" x="1" y="245"><tspan font-weight="bold">(B) Kc167</tspan> (Low Copy, Expressed)</text>
</g>
</svg>
